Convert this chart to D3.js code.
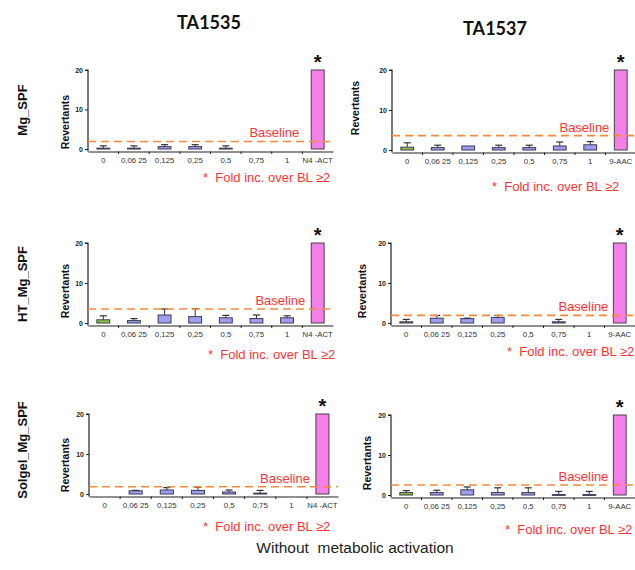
<!DOCTYPE html>
<html><head><meta charset="utf-8">
<script src="https://cdn.jsdelivr.net/npm/d3@7"></script>
<style>body{margin:0;background:#fff}svg{display:block}text{white-space:pre}</style>
</head><body>
<script>
// ---- data ----
const catsTA1535 = ["0","0,06 25","0,125","0,25","0,5","0,75","1","N4 -ACT"];
const catsTA1537 = ["0","0,06 25","0,125","0,25","0,5","0,75","1","9-AAC"];
const strains = ["TA1535","TA1537"];
const materials = ["Mg_SPF","HT_Mg_SPF","Solgel_Mg_SPF"];
const yTicks = [0,10,20];

const mgTA1535 = [0.2,0.2,0.6,0.6,0.2,0,0,20];
const mgTA1535Err = [0.6,0.6,0.5,0.5,0.6,0,0,0];
const mgTA1537 = [0.7,0.6,1.0,0.6,0.6,1.0,1.3,20];
const mgTA1537Err = [1.1,0.6,0,0.6,0.6,1.0,0.8,0];
const htTA1535 = [0.8,0.6,2.0,1.6,1.3,1.1,1.3,20];
const htTA1535Err = [1.0,0.5,1.5,2.0,0.6,0.9,0.5,0];
const htTA1537 = [0.3,1.2,1.1,1.4,0,0.3,0,20];
const htTA1537Err = [0.6,0.7,0.1,0.5,0,0.6,0,0];
const sgTA1535 = [0,0.8,1.0,0.9,0.5,0.2,0,20];
const sgTA1535Err = [0,0.1,0.6,0.8,0.5,0.7,0,0];
const sgTA1537 = [0.6,0.6,1.3,0.6,0.6,0.1,0.1,20];
const sgTA1537Err = [0.5,0.6,0.7,1.2,1.2,0.8,0.8,0];
const baselines = [1.9,3.6,3.5,1.9,1.8,2.5];

const footnote = "*  Fold inc. over BL \u22652";
const bottomLabel = "Without  metabolic activation";

// ---- layout ----
const W=635,H=570;
const svg=d3.select("body").append("svg").attr("width",W).attr("height",H);
const panels=[
 {cats:catsTA1535,v:mgTA1535,e:mgTA1535Err,b:baselines[0],x0:88,x1:333,yt:70,y0:149,rx:65,ry:122,fx:203,fy:182,bo:12},
 {cats:catsTA1537,v:mgTA1537,e:mgTA1537Err,b:baselines[1],x0:392,x1:636,yt:70,y0:150,rx:355,ry:108,fx:492,fy:191,bo:5},
 {cats:catsTA1535,v:htTA1535,e:htTA1535Err,b:baselines[2],x0:88,x1:333,yt:243,y0:323,rx:65,ry:291,fx:208,fy:359,bo:6},
 {cats:catsTA1537,v:htTA1537,e:htTA1537Err,b:baselines[3],x0:391,x1:635,yt:243,y0:323,rx:362,ry:291,fx:507,fy:356,bo:5},
 {cats:catsTA1535,v:sgTA1535,e:sgTA1535Err,b:baselines[4],x0:89,x1:338,yt:414,y0:494,rx:65,ry:465,fx:203,fy:531,bo:6},
 {cats:catsTA1537,v:sgTA1537,e:sgTA1537Err,b:baselines[5],x0:391,x1:635,yt:415,y0:495,rx:367,ry:463,fx:505,fy:534,bo:5}
];
const font="'Liberation Sans', Arial, sans-serif";
const purple="#9f9ff2", green="#8dc63f", pink="#f47fe9", outline="#3a3a55";

panels.forEach((p,pi)=>{
  const g=svg.append("g");
  const x=d3.scaleBand().domain(p.cats).range([p.x0,p.x1]).paddingInner(0.58).paddingOuter(0.29);
  const y=d3.scaleLinear().domain([0,20]).range([p.y0,p.yt]);
  const axisY=p.y0+2.5;
  const n=p.cats.length;
  p.cats.forEach((c,i)=>{
    const v=p.v[i];
    if(v<=0) return;
    const col = i===n-1?pink:(i===0?green:purple);
    g.append("rect").attr("x",x(c)).attr("width",x.bandwidth())
      .attr("y",y(v)).attr("height",Math.max(0.8,y(0)-y(v)))
      .attr("fill",col).attr("stroke",i===n-1?"#444":outline).attr("stroke-width",1);
    if(p.e[i]>0){
      const cx=x(c)+x.bandwidth()/2, top=y(v+p.e[i]);
      g.append("line").attr("x1",cx).attr("x2",cx).attr("y1",y(v)).attr("y2",top).attr("stroke","#333").attr("stroke-width",1);
      g.append("line").attr("x1",cx-3.5).attr("x2",cx+3.5).attr("y1",top).attr("y2",top).attr("stroke","#333").attr("stroke-width",1.2);
    }
  });
  const ya=g.append("g").attr("transform",`translate(${p.x0},0)`)
    .call(d3.axisLeft(y).tickValues(yTicks).tickSize(3).tickFormat(d3.format("d")));
  ya.select(".domain").attr("d",`M-3,${p.yt}H0V${axisY}`).attr("stroke","#222").attr("stroke-width",1.2);
  ya.selectAll(".tick line").attr("stroke","#222");
  ya.selectAll(".tick text").attr("font-family",font).attr("font-size",7).attr("font-weight","bold").attr("fill","#222").attr("x",-5);
  const xa=g.append("g").attr("transform",`translate(0,${axisY})`)
    .call(d3.axisBottom(x).tickSize(0).tickPadding(6));
  xa.select(".domain").attr("stroke","#222").attr("stroke-width",1.2);
  xa.selectAll(".tick text").attr("font-family",font).attr("font-size",7.8).attr("fill","#333");
  const step=x.step();
  d3.range(1,n).forEach(i=>{
    const bx=x(p.cats[i])-step*0.29;
    g.append("line").attr("x1",bx).attr("x2",bx).attr("y1",axisY).attr("y2",axisY+2.5).attr("stroke","#222");
  });
  g.append("line").attr("x1",p.x0).attr("x2",p.x1).attr("y1",y(p.b)).attr("y2",y(p.b))
    .attr("stroke","#f5893c").attr("stroke-width",1.6).attr("stroke-dasharray","8,5");
  g.append("text").attr("x",x(p.cats[n-1])-p.bo).attr("y",y(p.b)-4).attr("text-anchor","end")
    .attr("font-family",font).attr("font-size",13).attr("fill","#ff3333").text("Baseline");
  g.append("text").attr("x",x(p.cats[n-1])+x.bandwidth()/2).attr("y",p.yt-1).attr("text-anchor","middle")
    .attr("font-family",font).attr("font-size",20).attr("font-weight","bold").attr("fill","#111").text("*");
  g.append("text").attr("transform",`translate(${p.rx+4},${p.ry}) rotate(-90)`).attr("text-anchor","middle")
    .attr("font-family",font).attr("font-size",10.5).attr("font-weight","bold").attr("fill","#111").text("Revertants");
  g.append("text").attr("x",p.fx).attr("y",p.fy).attr("font-family",font).attr("font-size",13)
    .attr("fill","#ff3333").text(footnote);
});

svg.append("text").attr("x",209).attr("y",29).attr("text-anchor","middle").attr("font-family","Lato, 'Open Sans', sans-serif")
  .attr("font-weight","bold").attr("font-size",18).attr("fill","#111").text(strains[0]);
svg.append("text").attr("x",495).attr("y",35).attr("text-anchor","middle").attr("font-family","Lato, 'Open Sans', sans-serif")
  .attr("font-weight","bold").attr("font-size",18).attr("fill","#111").text(strains[1]);
const rowY=[110,284,450];
materials.forEach((m,i)=>{
  svg.append("text").attr("transform",`translate(27,${rowY[i]}) rotate(-90)`).attr("text-anchor","middle")
    .attr("font-family",font).attr("font-weight","bold").attr("font-size",13).attr("fill","#111").text(m);
});
svg.append("text").attr("x",355).attr("y",553).attr("text-anchor","middle").attr("font-family",font)
  .attr("font-size",15.5).attr("fill","#222").text(bottomLabel);
</script>
</body></html>
